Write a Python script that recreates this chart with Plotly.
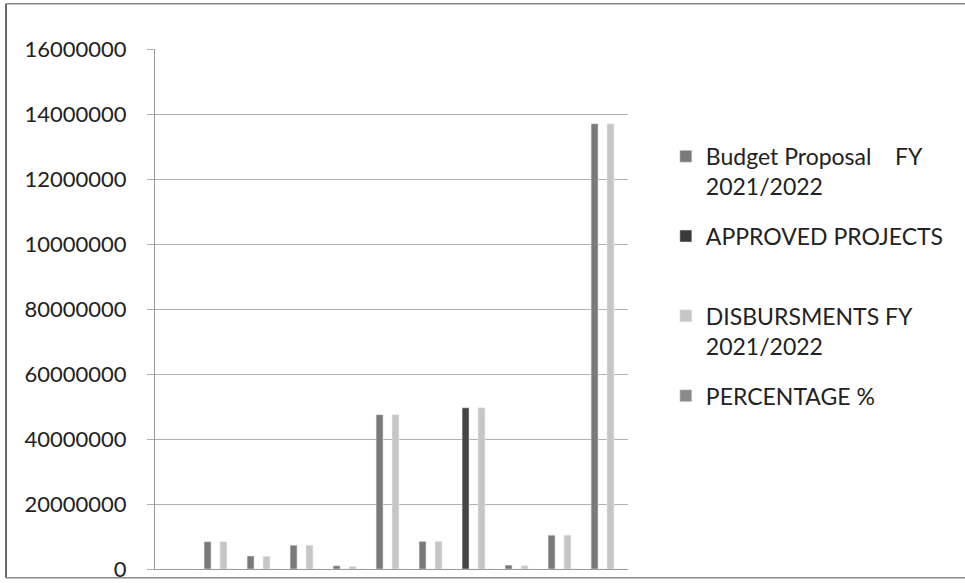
import plotly.graph_objects as go

categories = ["", "A", "B", "C", "D", "E", "F", "G", "H", "I", "J"]
budget = [0, 8400000, 4000000, 7300000, 1000000, 47500000, 8500000, 49600000, 1200000, 10400000, 137000000]
approved = [0, 0, 0, 0, 0, 0, 0, 0, 0, 0, 0]
disbursements = [0, 8400000, 3900000, 7300000, 800000, 47500000, 8500000, 49600000, 1000000, 10400000, 137000000]
percentage = [0, 100, 98, 100, 80, 100, 100, 100, 83, 100, 100]

tick_vals = [0, 20000000, 40000000, 60000000, 80000000, 100000000, 120000000, 140000000, 160000000]
tick_text = ["0", "20000000", "40000000", "60000000", "80000000", "10000000", "12000000", "14000000", "16000000"]

budget_colors = ["#7a7a7a"] * len(budget)
budget_colors[7] = "#454545"

fig = go.Figure()
fig.add_trace(go.Bar(x=categories, y=budget, name="Budget Proposal    FY<br>2021/2022",
                     marker=dict(color=budget_colors), legendgroup="a"))
fig.add_trace(go.Bar(x=categories, y=approved, name="APPROVED PROJECTS<br> ",
                     marker=dict(color="#3a3a3a"), legendgroup="b"))
fig.add_trace(go.Bar(x=categories, y=disbursements, name="DISBURSMENTS FY<br>2021/2022",
                     marker=dict(color="#c6c6c6"), legendgroup="c"))
fig.add_trace(go.Bar(x=categories, y=percentage, name="PERCENTAGE %",
                     marker=dict(color="#8a8a8a"), legendgroup="d"))

fig.update_layout(
    width=965, height=583,
    margin=dict(l=155, r=337, t=49, b=14, autoexpand=False),
    paper_bgcolor="white", plot_bgcolor="white",
    font=dict(family="Lato, Open Sans, sans-serif", size=22, color="#222222"),
    barmode="group", bargap=0.26, bargroupgap=0.125,
    showlegend=True,
    legend=dict(x=1.08, y=0.835, xanchor="left", yanchor="top", valign="top",
                font=dict(size=23, color="#222222"), tracegroupgap=17,
                itemwidth=30, bgcolor="rgba(0,0,0,0)"),
    xaxis=dict(showticklabels=False, showgrid=False, showline=True, linecolor="#9a9a9a",
               linewidth=1, ticks="", automargin=False),
    yaxis=dict(range=[0, 160000000], tickvals=tick_vals, ticktext=tick_text,
               showgrid=True, gridcolor="#b0b0b0", gridwidth=1, showline=True,
               linecolor="#9a9a9a", linewidth=1, ticks="outside", ticklen=7,
               tickcolor="#b0b0b0", zeroline=False, ticklabelstandoff=16,
               automargin=False,
               tickfont=dict(size=22, color="#222222")),
    shapes=[
        dict(type="line", xref="paper", yref="paper", x0=-0.315, x1=-0.315,
             y0=-0.017, y1=1.087, line=dict(color="#6a6a6a", width=2)),
        dict(type="line", xref="paper", yref="paper", x0=-0.315, x1=1.72,
             y0=1.087, y1=1.087, line=dict(color="#8a8a8a", width=1.5)),
        dict(type="line", xref="paper", yref="paper", x0=-0.315, x1=1.72,
             y0=-0.017, y1=-0.017, line=dict(color="#8a8a8a", width=1.5)),
    ],
)

fig.write_html("out.html", config={"displayModeBar": False},
               post_script="document.body.style.margin='0';document.body.style.overflow='hidden';")
